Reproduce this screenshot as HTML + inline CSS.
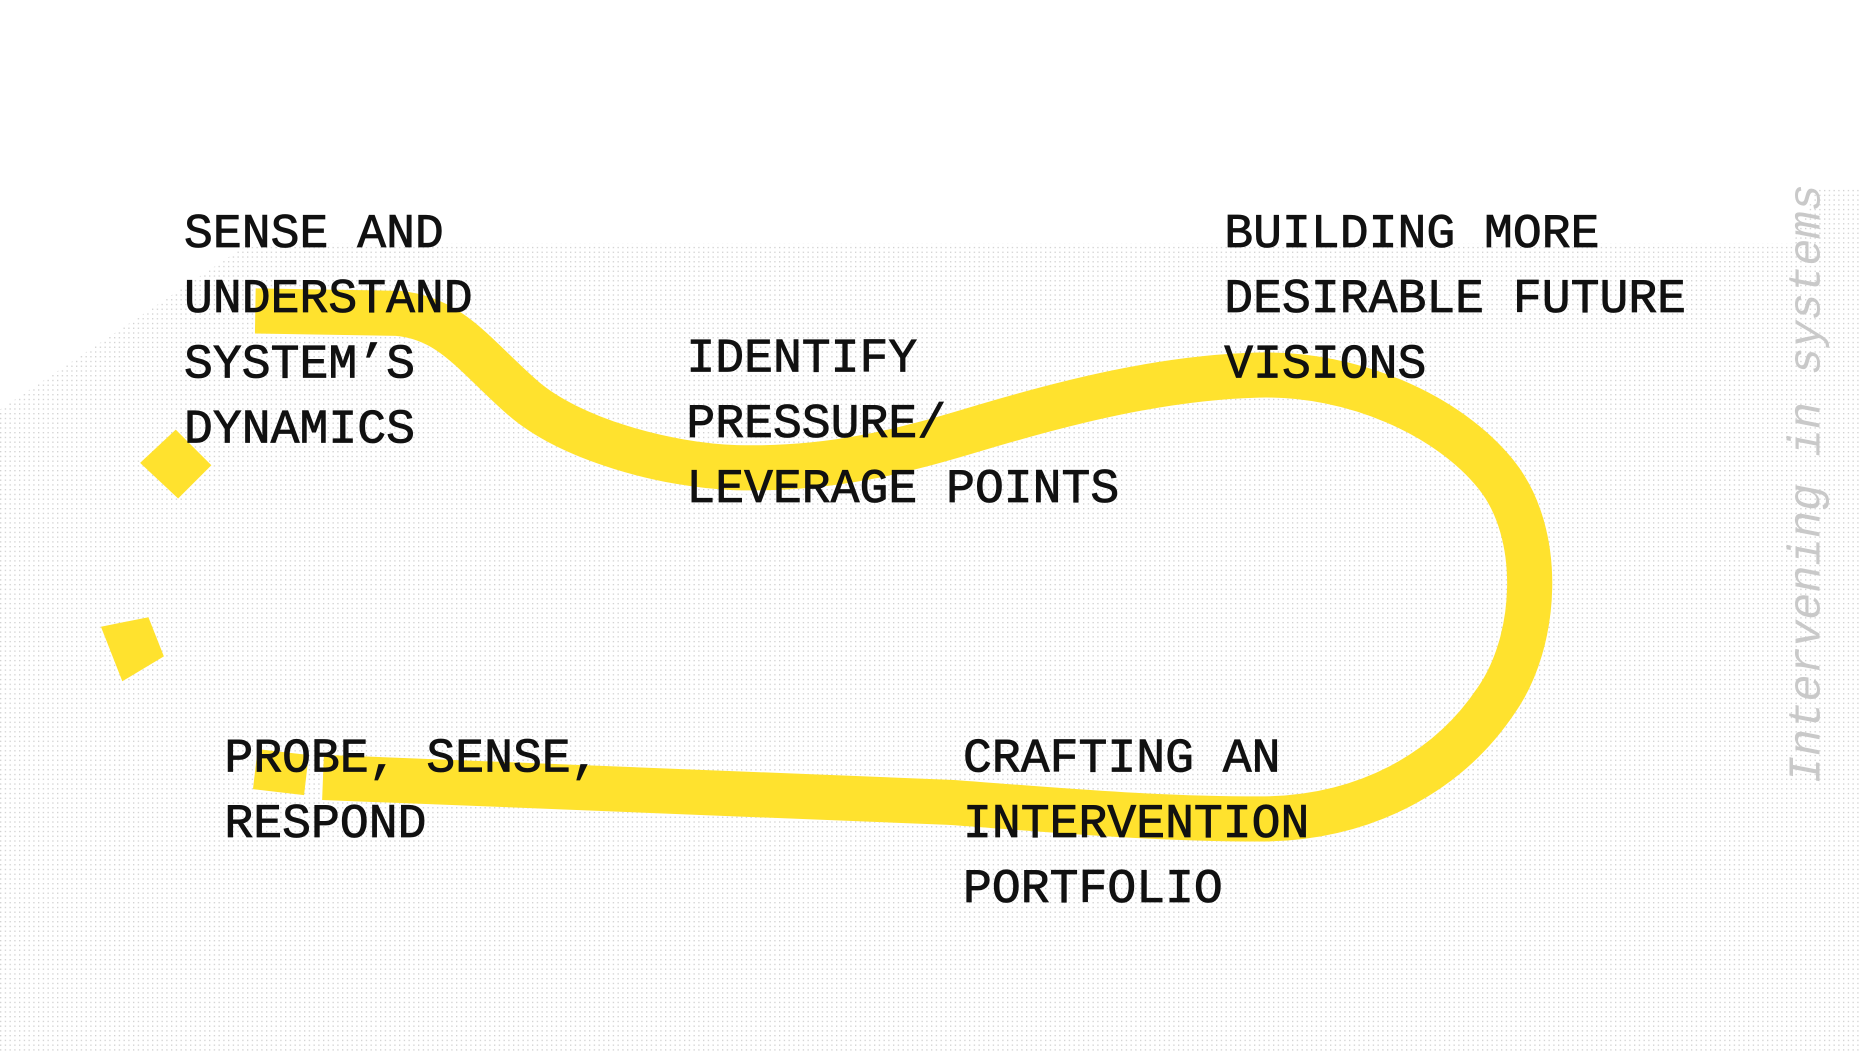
<!DOCTYPE html>
<html><head><meta charset="utf-8"><style>
html,body{margin:0;padding:0;background:#fff;}
svg{display:block;}
text{font-family:"Liberation Mono","DejaVu Sans Mono",monospace;}
</style></head><body>
<svg width="1862" height="1054" viewBox="0 0 1568 888" preserveAspectRatio="none" xmlns="http://www.w3.org/2000/svg">
<defs>
<pattern id="dots" width="4" height="4" patternUnits="userSpaceOnUse">
<rect x="0" y="0" width="1.1" height="1.1" fill="#d0d0d0"/>
</pattern>
</defs>
<rect width="1568" height="888" fill="#fff"/>
<polygon points="0,345 210,205 1510,205 1530,158 1568,158 1568,888 0,888" fill="url(#dots)"/>
<g fill="none" stroke="#FFE22E" stroke-width="38" stroke-linecap="butt">
<path d="M215,262 L335,264 C380,268 400,300 440,335 C480,370 560,392 620,394 C700,396 760,380 820,362 C900,338 980,318 1060,316 C1140,314 1220,350 1260,400 C1300,450 1295,540 1260,590 C1220,650 1150,690 1060,690 C960,690 860,680 800,676 L400,660 C350,658 300,656 272,655"/>
<path d="M215,648 L258,653" stroke-width="34"/>
</g>
<polygon points="118,390 148,362 178,392 150,420" fill="#FFE22E"/>
<polygon points="85,528 125,520 138,553 103,574" fill="#FFE22E"/>
<g font-size="40.5" fill="#111" stroke="#111" stroke-width="0.7">
<text x="155" y="208">SENSE AND</text>
<text x="155" y="263">UNDERSTAND</text>
<text x="155" y="318">SYSTEM’S</text>
<text x="155" y="373">DYNAMICS</text>
<text x="578" y="313">IDENTIFY</text>
<text x="578" y="368">PRESSURE/</text>
<text x="578" y="423">LEVERAGE POINTS</text>
<text x="1031" y="208">BUILDING MORE</text>
<text x="1031" y="263">DESIRABLE FUTURE</text>
<text x="1031" y="318">VISIONS</text>
<text x="189" y="650">PROBE, SENSE,</text>
<text x="189" y="705">RESPOND</text>
<text x="811" y="650">CRAFTING AN</text>
<text x="811" y="705">INTERVENTION</text>
<text x="811" y="760">PORTFOLIO</text>
</g>
<text transform="translate(1532,660) rotate(-90)" font-size="38" font-style="italic" fill="#c9c9c9" textLength="505" lengthAdjust="spacingAndGlyphs">Intervening in systems</text>
</svg>
</body></html>
